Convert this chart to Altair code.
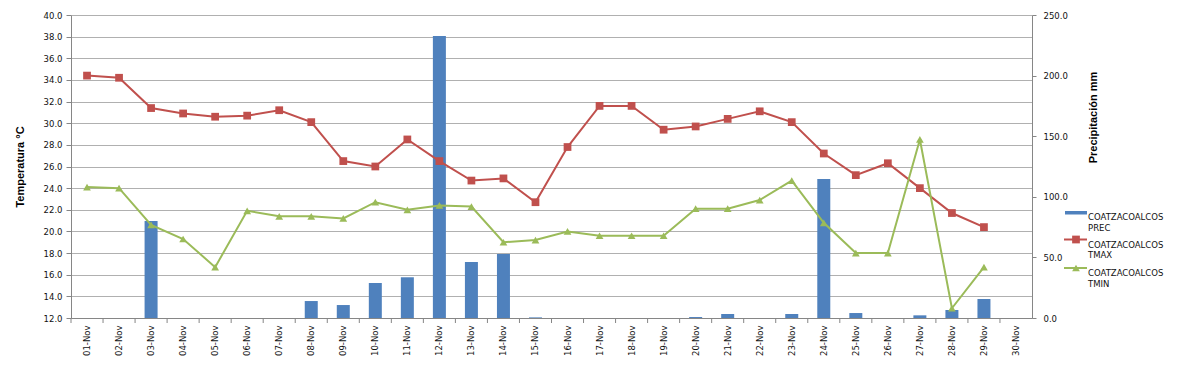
import altair as alt
import pandas as pd

days = [f"{d:02d}-Nov" for d in range(1, 31)]
prec = [0, 0, 80.0, 0, 0, 0, 0, 14.0, 10.7, 28.9, 33.6, 232.7, 46.2, 52.8, 0.5,
        0, 0, 0, 0, 0.8, 3.3, 0, 3.3, 114.7, 4.1, 0, 2.2, 6.6, 15.7, 0]
tmax = [34.4, 34.2, 31.4, 30.9, 30.6, 30.7, 31.2, 30.1, 26.5, 26.0, 28.5, 26.5, 24.7, 24.9, 22.7,
        27.8, 31.6, 31.6, 29.4, 29.7, 30.4, 31.1, 30.1, 27.2, 25.2, 26.3, 24.0, 21.7, 20.4]
tmin = [24.1, 24.0, 20.6, 19.3, 16.7, 21.9, 21.4, 21.4, 21.2, 22.7, 22.0, 22.4, 22.3, 19.0, 19.2,
        20.0, 19.6, 19.6, 19.6, 22.1, 22.1, 22.9, 24.7, 20.8, 18.0, 18.0, 28.5, 12.9, 16.7]
temp_ticks = list(range(12, 41, 2))
prec_ticks = [0, 50, 100, 150, 200, 250]

BLUE = "#4F81BD"
RED = "#C0504D"
GREEN = "#9BBB59"
AXC = "#868686"
FONT = "DejaVu Sans"

df_p = pd.DataFrame({"day": days, "prec": prec})
df_t = pd.DataFrame({"day": days[:len(tmax)], "tmax": tmax, "tmin": tmin})

xsc = alt.Scale(domain=days, paddingInner=0, paddingOuter=0)
x_axis = alt.Axis(title=None, labelAngle=270, labelAlign="right", labelBaseline="middle",
                  labelPadding=7, ticks=False, domainColor=AXC, labelFont=FONT,
                  labelFontSize=8.5, labelColor="#111111", grid=False, labelOverlap=False)


def X(**kw):
    return alt.X("day:N", sort=days, scale=xsc, axis=x_axis, **kw)


tsc = alt.Scale(domain=[12, 40], nice=False, zero=False)
psc = alt.Scale(domain=[0, 250], nice=False)

bars = alt.Chart(df_p).mark_bar(size=13, color=BLUE).encode(
    x=X(),
    y=alt.Y("prec:Q", scale=psc, axis=alt.Axis(
        orient="right", values=prec_ticks, format=".1f", grid=False,
        title="Precipitación mm", titleAngle=270, titleX=61, titleY=102,
        titleAlign="center", titleBaseline="middle", titleFont="Liberation Sans",
        titleFontSize=11, titleFontWeight="bold", titleColor="#000000",
        labelFont=FONT, labelFontSize=8.5, labelColor="#111111", labelPadding=7,
        tickSize=4, tickColor=AXC, domainColor=AXC)),
)

xticks = alt.Chart(df_p).mark_rule(color=AXC).encode(
    x=X(bandPosition=0),
    y=alt.value(303), y2=alt.value(308),
)

tmax_line = alt.Chart(df_t).mark_line(color=RED, strokeWidth=2).encode(
    x=X(),
    y=alt.Y("tmax:Q", scale=tsc, axis=alt.Axis(
        values=temp_ticks, format=".1f", grid=True, gridColor="#B0B0B0",
        title="Temperatura °C", titleAngle=270, titleX=-51, titleY=151.5,
        titleAlign="center", titleBaseline="middle", titleFont="Liberation Sans",
        titleFontSize=11, titleFontWeight="bold", titleColor="#000000",
        labelFont=FONT, labelFontSize=8.5, labelColor="#111111", labelPadding=4,
        tickSize=5, tickColor=AXC, domainColor=AXC)),
)
tmax_pts = alt.Chart(df_t).mark_point(shape="square", size=60, filled=True, color=RED, opacity=1).encode(
    x=X(),
    y=alt.Y("tmax:Q", scale=tsc, axis=None),
)
tmin_line = alt.Chart(df_t).mark_line(color=GREEN, strokeWidth=2).encode(
    x=X(),
    y=alt.Y("tmin:Q", scale=tsc, axis=None),
)
tmin_pts = alt.Chart(df_t).mark_point(shape="triangle-up", size=60, filled=True, color=GREEN, opacity=1).encode(
    x=X(),
    y=alt.Y("tmin:Q", scale=tsc, axis=None),
)

one = pd.DataFrame({"k": [0]})
leg = []
leg.append(alt.Chart(one).mark_rect(color=BLUE).encode(
    x=alt.value(994), x2=alt.value(1016), y=alt.value(196), y2=alt.value(199.5)))
leg.append(alt.Chart(one).mark_rule(color=RED, strokeWidth=2).encode(
    x=alt.value(993), x2=alt.value(1016), y=alt.value(224.5)))
leg.append(alt.Chart(one).mark_point(shape="square", size=60, filled=True, color=RED, opacity=1).encode(
    x=alt.value(1005), y=alt.value(224.5)))
leg.append(alt.Chart(one).mark_rule(color=GREEN, strokeWidth=2).encode(
    x=alt.value(993), x2=alt.value(1016), y=alt.value(253)))
leg.append(alt.Chart(one).mark_point(shape="triangle-up", size=60, filled=True, color=GREEN, opacity=1).encode(
    x=alt.value(1005), y=alt.value(253)))
for txt, yy in [("COATZACOALCOS\nPREC", 202), ("COATZACOALCOS\nTMAX", 229.75), ("COATZACOALCOS\nTMIN", 258.25)]:
    leg.append(alt.Chart(one).mark_text(align="left", baseline="middle", lineBreak="\n",
                                        lineHeight=10.5, font=FONT, fontSize=8.5, color="#111111").encode(
        x=alt.value(1017), y=alt.value(yy), text=alt.value(txt)))

chart = alt.layer(bars, xticks, tmax_line, tmax_pts, tmin_line, tmin_pts, *leg).resolve_scale(
    y="independent"
).properties(
    width=961, height=303,
    autosize=alt.AutoSizeParams(type="none"),
    padding={"left": 63, "top": 7, "right": 139, "bottom": 42},
    background="white",
).configure_view(strokeWidth=0)

chart.save("out.html", embed_options={"renderer": "svg", "actions": False})
